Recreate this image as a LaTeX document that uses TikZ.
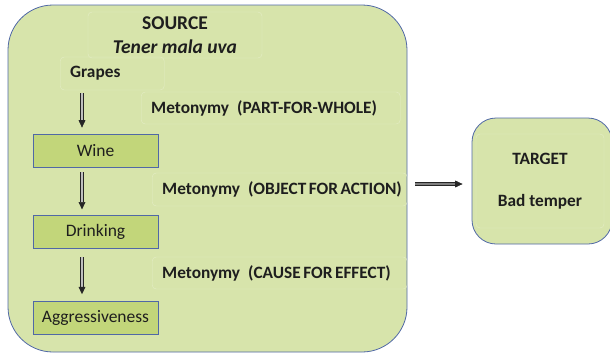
\documentclass[tikz,border=0pt]{standalone}
\usepackage{fontspec}
\setmainfont{Carlito}
\usetikzlibrary{arrows.meta,positioning}

\definecolor{srcfill}{HTML}{D7E4AB}
\definecolor{boxfill}{HTML}{C2D67A}
\definecolor{edgeblue}{HTML}{5068A6}
\definecolor{faint}{HTML}{E4EDC6}
\definecolor{ink}{HTML}{1E1E1E}

\begin{document}
\begin{tikzpicture}[x=1pt, y=-1pt,
    frame/.style={draw=edgeblue, fill=srcfill, line width=0.8pt},
    chainbox/.style={draw=edgeblue, fill=boxfill, line width=0.8pt, minimum width=125pt, minimum height=33pt, font=\fontsize{17.5}{20}\selectfont, text=ink},
    tag/.style={draw=faint, rounded corners=4pt, inner xsep=10pt, align=left, anchor=west, text=ink, font=\fontsize{17.3}{20}\selectfont\bfseries},
    arrow/.style={-{Triangle[length=2.6mm, width=2.4mm]}, draw=black!85, double=black!25, double distance=2pt, line width=0.6pt}
  ]
    \useasboundingbox (0,0) rectangle (610,354);

    % the two big frames
    \node[frame, rounded corners=45pt, minimum width=399pt, minimum height=347pt] (source) at (207.5,178.5) {};
    \node[frame, rounded corners=24pt, minimum width=140pt, minimum height=126pt] (target) at (542,181) {};

    % source side
    \node[tag, anchor=center, align=center, minimum width=174pt, minimum height=46pt, font=\fontsize{19.5}{24}\selectfont\bfseries] (header) at (175,35) {SOURCE\\\itshape Tener mala uva};
    \node[tag, text width=84pt, minimum height=33pt] (grapes) at (60,73.5) {Grapes};
    \node[chainbox] (wine) at (95.5,150.5) {Wine};
    \node[chainbox, below=48pt of wine] (drinking) {Drinking};
    \node[chainbox, below=52pt of drinking] (aggr) {Aggressiveness};
    \node[tag, text width=239pt, minimum height=32pt] (partwhole) at (141,108) {\mbox{Metonymy\hspace{8pt}(PART-FOR-WHOLE)}};
    \node[tag, text width=235pt, minimum height=33pt] (objaction) at (152,189.5) {\mbox{Metonymy\hspace{8pt}(OBJECT\hspace{2.5pt}FOR\hspace{2.5pt}ACTION)}};
    \node[tag, text width=235pt, minimum height=32pt] (causeeffect) at (152,273) {\mbox{Metonymy\hspace{8pt}(CAUSE\hspace{2.5pt}FOR\hspace{2.5pt}EFFECT)}};

    % target side
    \node[tag, anchor=center, align=center, minimum width=128pt, minimum height=94pt, font=\fontsize{17.3}{42}\selectfont\bfseries] (badtemper) at (540,181) {TARGET\\Bad temper};

    \draw[arrow, shorten <=3pt, shorten >=6pt] ([xshift=-13.5pt]wine.north |- grapes.south) -- ([xshift=-13.5pt]wine.north);
    \draw[arrow, shorten <=5pt, shorten >=6pt] ([xshift=-13.5pt]wine.south) -- ([xshift=-13.5pt]drinking.north);
    \draw[arrow, shorten <=8pt, shorten >=7pt] ([xshift=-13.5pt]drinking.south) -- ([xshift=-13.5pt]aggr.north);
    \draw[arrow, double=black!50, shorten <=8pt, shorten >=9pt] ([yshift=-5.5pt]source.east) -- ([yshift=-5.5pt]source.east -| target.west);
\end{tikzpicture}
\end{document}
